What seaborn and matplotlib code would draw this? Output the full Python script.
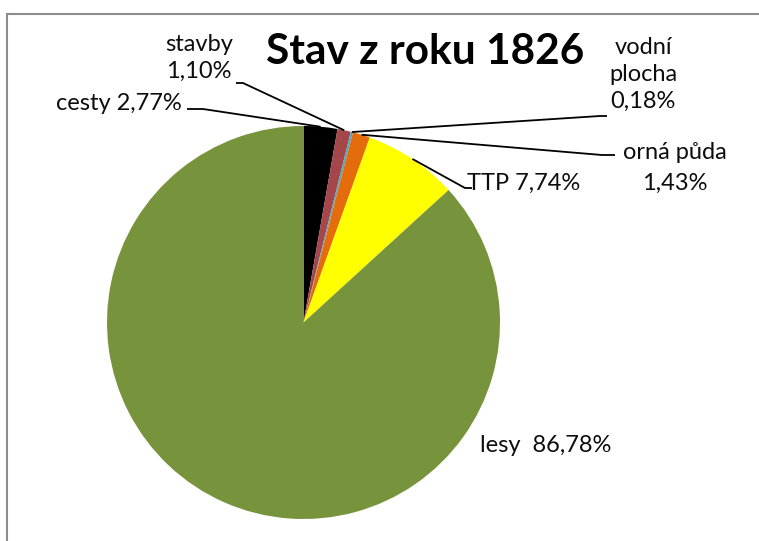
import numpy as np
import matplotlib.pyplot as plt
import matplotlib.patches as mpatches
import seaborn as sns

# data
categories = ['cesty', 'stavby', 'vodní plocha', 'orná půda', 'TTP', 'lesy']
values = [2.77, 1.10, 0.18, 1.43, 7.74, 86.78]
label_texts = ['cesty 2,77%', 'stavby\n1,10%', 'vodní\nplocha\n0,18%',
               'orná půda\n1,43%', 'TTP 7,74%', 'lesy  86,78%']
colors = ['#000000', '#A5464A', '#4BACC6', '#E46C0A', '#FFFF00', '#77933C']

sns.set_theme(style='white')
plt.rcParams['font.family'] = ['Lato', 'DejaVu Sans']

W, H = 759, 541
fig = plt.figure(figsize=(W / 100, H / 100), dpi=100)

# pie centre and radius in pixels
cx, cy, r = 303.5, 322.5, 196.5
ax = fig.add_axes([(cx - r) / W, (H - cy - r) / H, 2 * r / W, 2 * r / H])
wedges, _ = ax.pie(values, colors=colors, startangle=90, counterclock=False,
                   radius=1.0, wedgeprops=dict(linewidth=0))
ax.set_xlim(-1, 1)
ax.set_ylim(-1, 1)
ax.set_aspect('equal')
ax.axis('off')


def px(x, y):
    # pixel -> data coords of pie axes
    return (x - cx) / r, (cy - y) / r


# label positions (pixel centres), line spacing and leader elbow/end points
text_pos = [(119, 103), (199, 58), (643, 74), (675, 168), (524, 183), (546, 446)]
spacings = [1.35, 1.35, 1.35, 1.6, 1.35, 1.35]
elbows = [((203, 109), (187, 109)), ((243, 83), (236, 83)),
          ((600, 116), (607, 116)), ((602, 155), (615, 155)),
          ((465, 188), (472, 188)), None]

for w, txt, tp, ls, el in zip(wedges, label_texts, text_pos, spacings, elbows):
    ang = np.deg2rad((w.theta1 + w.theta2) / 2)
    ax_, ay_ = np.cos(ang), np.sin(ang)
    tx, ty = px(*tp)
    ax.text(tx, ty, txt, ha='center', va='center', fontsize=17,
            color='#0d0d0d', linespacing=ls, clip_on=False)
    if el is not None:
        e1 = px(*el[0])
        e2 = px(*el[1])
        ax.plot([ax_, e1[0], e2[0]], [ay_, e1[1], e2[1]], color='black',
                lw=1.3, clip_on=False, solid_capstyle='butt')

fig.text(425 / W, 1 - 52 / H, 'Stav z roku 1826', ha='center', va='center',
         fontsize=30.5, fontweight='bold', color='black')

# chart frame
frame = mpatches.Rectangle((7 / W, -0.1), 1.2, 1 - 14 / H + 0.1,
                           transform=fig.transFigure, fill=False,
                           edgecolor='#8c8c8c', lw=1.5)
fig.patches.append(frame)

fig.savefig('out.png', dpi=100)
